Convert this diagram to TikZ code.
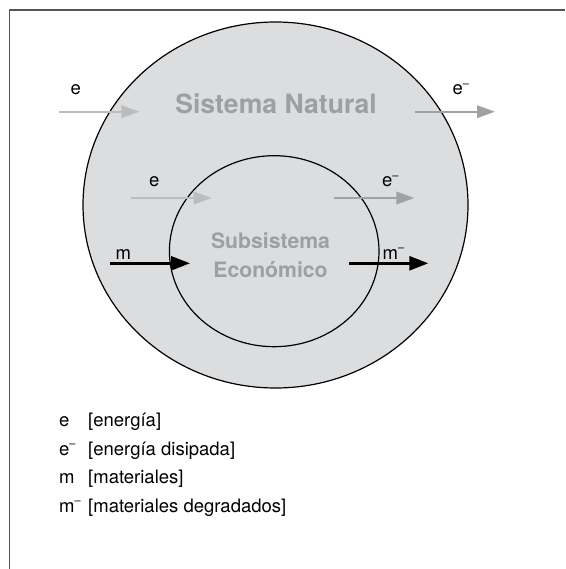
\documentclass[tikz,border=0pt]{standalone}
\usepackage{fontspec}
\setmainfont{TeX Gyre Heros}
\usetikzlibrary{arrows.meta,shapes.geometric}
\definecolor{fillgray}{RGB}{220,221,223}
\definecolor{titlegray}{RGB}{158,159,161}
\definecolor{lightarrow}{RGB}{187,188,190}
\definecolor{darkarrow}{RGB}{160,161,163}
\definecolor{framegray}{RGB}{85,85,85}
\newcommand\supm{\raisebox{0.42em}{\fontsize{11}{11}\selectfont –}}
\begin{document}
\begin{tikzpicture}[x=1pt,y=-1pt,
  lbl/.style={anchor=base west,inner sep=0pt,font=\fontsize{18.5}{22}\selectfont},
  title/.style={anchor=base,inner sep=0pt,text=titlegray,font=\bfseries\fontsize{26.6}{30}\selectfont},
  subtitle/.style={anchor=base,inner sep=0pt,text=titlegray,font=\bfseries\fontsize{21.2}{25}\selectfont},
  grayarrow/.style={line width=2pt,-{Triangle[length=18pt,width=12.5pt]}},
  blackarrow/.style={line width=2.6pt,black,-{Triangle[length=19pt,width=14pt]}},
  sysbound/.style={ellipse,draw=black,line width=1.2pt,inner sep=0pt}]
\useasboundingbox (0,0) rectangle (565,569);
\draw[framegray,line width=1.5pt] (9.5,569) -- (9.5,10) -- (565,10);
\node[sysbound,fill=fillgray,minimum width=385pt,minimum height=366pt] (nat) at (275.5,205) {};
\node[sysbound,minimum width=209.6pt,minimum height=191pt] (eco) at (274.2,251.2) {};
\node[title] (tnat) at (276,113.5) {Sistema Natural};
\node[subtitle] (teco1) at (270.5,248.6) {Subsistema};
\node[subtitle] (teco2) at (270.5,277.5) {Económico};
% arrow end points
\coordinate (a1s) at (59,111.7);  \coordinate (a1e) at (139.3,111.7);
\coordinate (a2s) at (415,111.7); \coordinate (a2e) at (495,111.7);
\coordinate (a3s) at (131,198);   \coordinate (a3e) at (211.7,198);
\coordinate (a4s) at (334,198);   \coordinate (a4e) at (414.3,198);
\coordinate (a5s) at (110,263.3); \coordinate (a5e) at (190,263.3);
\coordinate (a6s) at (349,263.3); \coordinate (a6e) at (428.3,263.3);
\draw[grayarrow,lightarrow] (a1s) -- (a1e);
\draw[grayarrow,darkarrow] (a2s) -- (a2e);
\draw[grayarrow,lightarrow] (a3s) -- (a3e);
\draw[grayarrow,darkarrow] (a4s) -- (a4e);
\draw[blackarrow] (a5s) -- (a5e);
\draw[blackarrow] (a6s) -- (a6e);
% arrow labels
\node[lbl] (l1) at (70.5,94.5) {e};
\node[lbl] (l2) at (452.5,95) {e\supm};
\node[lbl] (l3) at (149,186.8) {e};
\node[lbl] (l4) at (382,186.8) {e\supm};
\node[lbl] (l5) at (115.5,259.3) {m};
\node[lbl] (l6) at (382.5,259.3) {m\supm};
% legend
\node[lbl] (k1) at (59,426.5) {e};
\node[lbl] (v1) at (88,426.5) {[energía]};
\node[lbl] (k2) at (59,455) {e\supm};
\node[lbl] (v2) at (88,455) {[energía disipada]};
\node[lbl] (k3) at (59,483.5) {m};
\node[lbl] (v3) at (88,483.5) {[materiales]};
\node[lbl] (k4) at (59,512) {m\supm};
\node[lbl] (v4) at (88,512) {[materiales degradados]};
\end{tikzpicture}
\end{document}
